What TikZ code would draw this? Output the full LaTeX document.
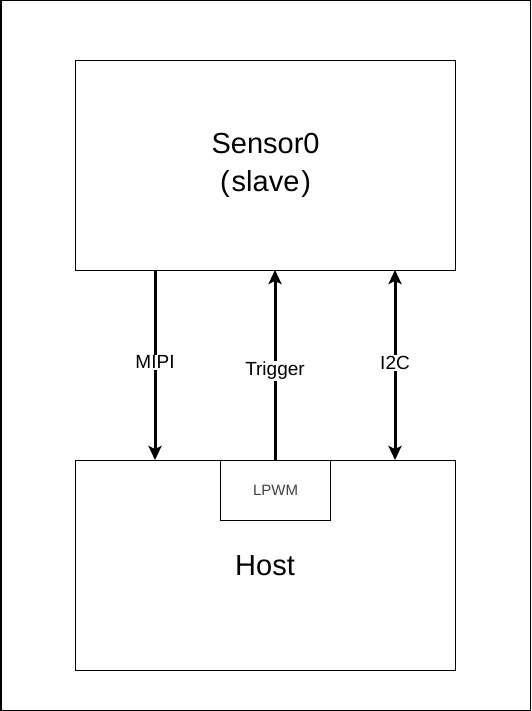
\documentclass[tikz,border=0pt]{standalone}
\usepackage{fontspec}
\setmainfont{Liberation Sans}
\usetikzlibrary{arrows.meta}
\begin{document}
\begin{tikzpicture}[x=1pt,y=-1pt,
  box/.style={draw=black,line width=1.2pt,fill=white,inner sep=0pt},
  conn/.style={draw=black,line width=3pt,-{Stealth[width=13pt,length=14pt,inset=3pt]}},
  bconn/.style={draw=black,line width=3pt,{Stealth[width=13pt,length=14pt,inset=3pt]}-{Stealth[width=13pt,length=14pt,inset=3pt]}},
  lbl/.style={fill=white,inner sep=1pt,font=\fontsize{19}{22}\selectfont}]
\useasboundingbox (0,0) rectangle (531,711);
\draw[line width=1.5pt] (0.75,0.75) rectangle (530.25,710.25);
\node[box,minimum width=380pt,minimum height=210pt,anchor=north west,
  align=center,font=\fontsize{29}{38}\selectfont] (sensor) at (75,60) {Sensor0\\(\kern2pt slave\kern2pt)};
\node[box,minimum width=380pt,minimum height=210pt,anchor=north west] (host) at (75,460) {};
\node[font=\fontsize{29}{34}\selectfont] (hostlbl) at (265,566) {Host};
\node[box,minimum width=110pt,minimum height=60pt,anchor=north west,
  font=\fontsize{15}{18}\selectfont,text=black!75] (lpwm) at (220,460) {LPWM};
\coordinate (m1) at (155,270);
\coordinate (m2) at (155,460);
\coordinate (t2) at (275,270);
\coordinate (i1) at (395,270);
\coordinate (i2) at (395,460);
\draw[conn] (m1) -- (m2) node[lbl,pos=0.485] (mipi) {MIPI};
\draw[conn] (lpwm.north -| t2) -- (t2) node[lbl,pos=0.47] (trig) {Trigger};
\draw[bconn] (i1) -- (i2) node[lbl,pos=0.49] (i2c) {I2C};
\end{tikzpicture}
\end{document}
